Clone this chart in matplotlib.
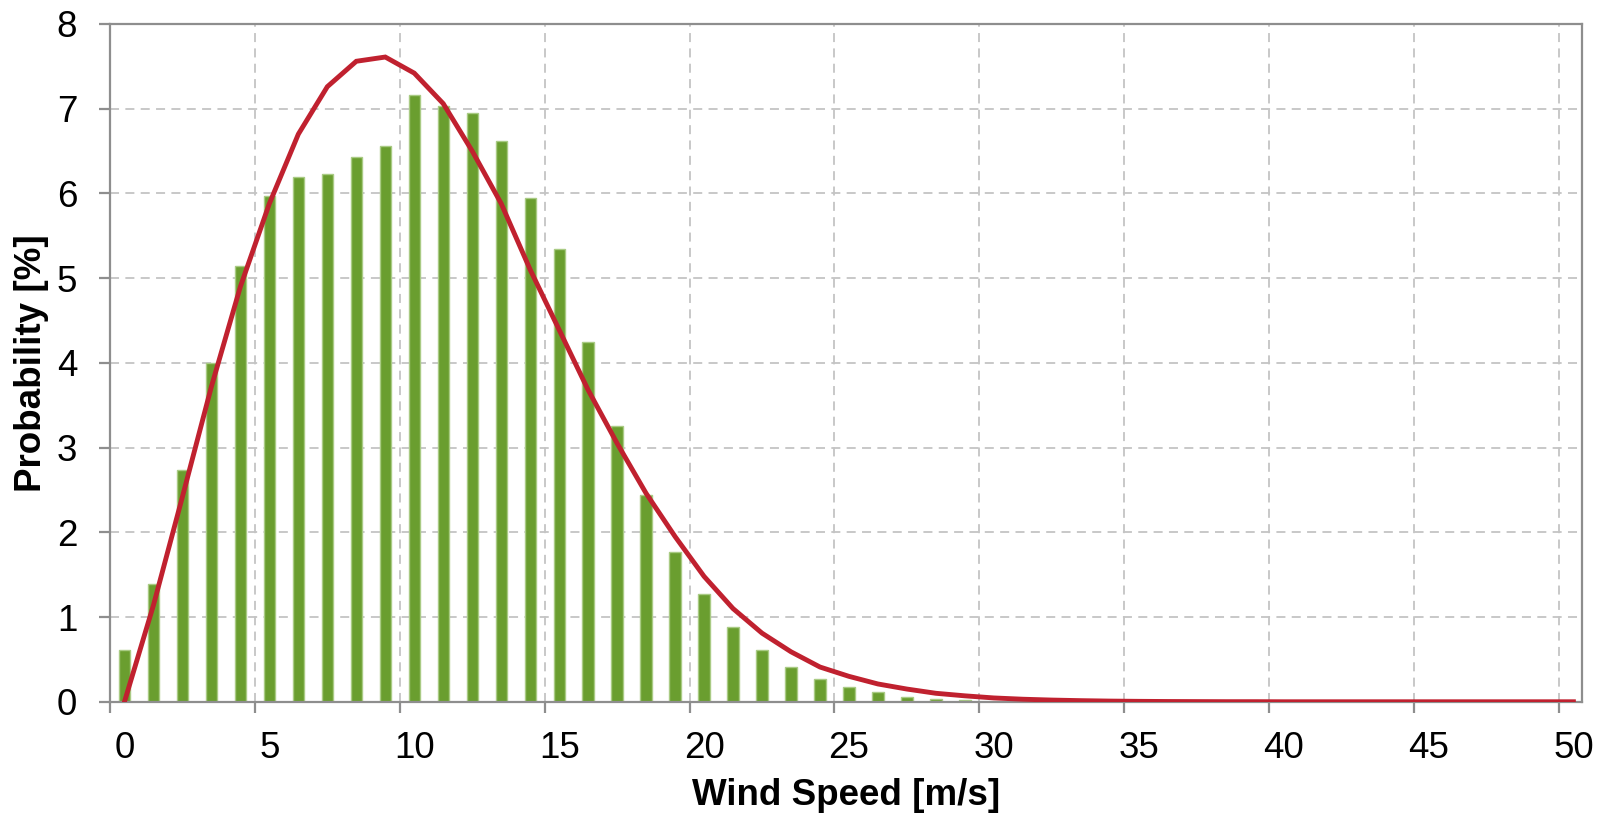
# =====================================================
# IMPORTS
# =====================================================

import numpy as np

import matplotlib
matplotlib.use("Agg")

import matplotlib.pyplot as plt

# =====================================================
# DATA
# =====================================================

# measured frequency per 1 m/s bin (bin centres 0.5, 1.5, ...)
bar_speed = np.arange(30) + 0.5

bar_prob = [
    0.61, 1.39, 2.74, 4.00, 5.14, 5.97, 6.19, 6.23, 6.43, 6.56,
    7.16, 7.03, 6.95, 6.62, 5.95, 5.35, 4.25, 3.26, 2.44, 1.77,
    1.27, 0.88, 0.61, 0.41, 0.27, 0.17, 0.11, 0.055, 0.03, 0.015,
]

# fitted distribution
fit_speed = np.arange(51) + 0.5

fit_prob = [
    0.00, 1.14, 2.42, 3.72, 4.90, 5.88, 6.70, 7.26, 7.56, 7.61,
    7.42, 7.06, 6.50, 5.88, 5.10, 4.39, 3.68, 3.05, 2.46, 1.95,
    1.48, 1.10, 0.81, 0.59, 0.41, 0.30, 0.21, 0.15, 0.10, 0.07,
    0.045, 0.03, 0.02, 0.013, 0.008, 0.005, 0.003, 0.002, 0.001, 0.001,
    0.0, 0.0, 0.0, 0.0, 0.0, 0.0, 0.0, 0.0, 0.0, 0.0,
    0.0,
]

x_ticks = [0, 5, 10, 15, 20, 25, 30, 35, 40, 45, 50]
x_labels = ["0", "5", "10", "15", "20", "25", "30", "35", "40", "45", "50"]
y_ticks = [0, 1, 2, 3, 4, 5, 6, 7, 8]

# =====================================================
# STYLE
# =====================================================

plt.rcParams["font.family"] = ["Liberation Sans", "DejaVu Sans"]

GREEN = "#6A9E2F"
GREEN_EDGE = "#A9CB84"
RED = "#C0212F"
GRID = "#C4C4C4"
SPINE = "#8E8E8E"

# =====================================================
# PLOT
# =====================================================

fig = plt.figure(figsize=(16.08, 8.16), dpi=100)

ax = fig.add_axes([0.0684, 0.140, 0.9155, 0.8306])

ax.bar(
    bar_speed,
    bar_prob,
    width=0.39,
    color=GREEN,
    edgecolor=GREEN_EDGE,
    linewidth=1.0,
    zorder=2
)

ax.plot(
    fit_speed,
    fit_prob,
    color=RED,
    linewidth=3.5,
    solid_joinstyle="miter",
    zorder=3
)

ax.set_xlim(0, 50.8)
ax.set_ylim(0, 8)

# tick marks + grid on the bin edges, labels centred on the bin
ax.set_xticks(x_ticks)
ax.set_xticklabels([""] * len(x_ticks))

ax.set_xticks([t + 0.5 for t in x_ticks], minor=True)
ax.set_xticklabels(x_labels, minor=True)

ax.set_yticks(y_ticks)

ax.set_axisbelow(True)

ax.grid(
    True,
    which="major",
    color=GRID,
    linestyle=(0, (5, 3.5)),
    linewidth=1.3
)

for side in ["left", "bottom", "top", "right"]:
    ax.spines[side].set_color(SPINE)
    ax.spines[side].set_linewidth(1.6)

ax.tick_params(
    axis="both",
    which="major",
    direction="out",
    color=SPINE,
    width=1.6,
    length=8,
    labelsize=26.5,
    labelcolor="black"
)

ax.tick_params(
    axis="x",
    which="minor",
    length=0,
    pad=21,
    labelsize=26.5,
    labelcolor="black"
)

ax.tick_params(axis="y", pad=15.5)

ax.set_xlabel(
    "Wind Speed [m/s]",
    fontsize=26.5,
    fontweight="bold",
    va="center"
)

ax.set_ylabel(
    "Probability [%]",
    fontsize=26.5,
    fontweight="bold",
    va="center"
)

ax.xaxis.set_label_coords(0.5, -0.138)
ax.yaxis.set_label_coords(-0.053, 0.5)

plt.savefig("out.png", dpi=100)

plt.close()
